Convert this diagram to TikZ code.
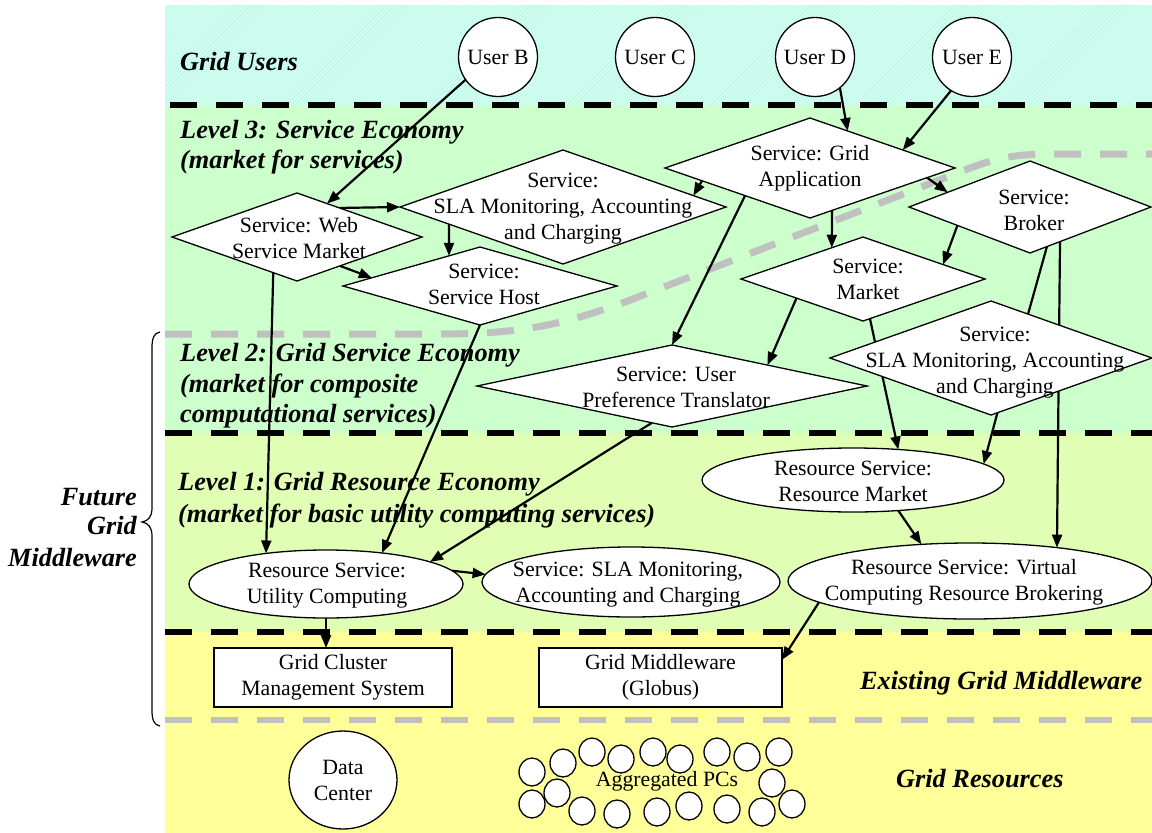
\documentclass[tikz,border=0pt]{standalone}
\usepackage{fontspec}
\setmainfont{Liberation Serif}
\usetikzlibrary{shapes.geometric,arrows.meta,calc,patterns.meta}
\newcommand{\bodyfnt}{\fontsize{21.8}{26}\selectfont}
\newcommand{\headfnt}{\fontsize{26.3}{30.5}\selectfont\bfseries\itshape}
\definecolor{bandcyan}{RGB}{206,255,240}
\definecolor{hatchcyan}{RGB}{188,242,224}
\definecolor{bandgreen}{RGB}{204,255,204}
\definecolor{bandlime}{RGB}{224,255,180}
\definecolor{bandyellow}{RGB}{255,255,153}
\definecolor{dashgray}{RGB}{192,192,192}
\pgfdeclarelayer{back}
\pgfdeclarelayer{conn}
\pgfsetlayers{back,conn,main}
\tikzset{
  shp/.style={draw=black, line width=1.3pt, fill=white, inner sep=0pt, outer sep=0pt},
  dia/.style={shp, diamond},
  ell/.style={shp, ellipse},
  usr/.style={shp, circle, minimum size=79pt, font=\bodyfnt},
  box/.style={shp, rectangle, align=center, font=\bodyfnt, minimum width=238pt, minimum height=59pt},
  lbl/.style={align=center, font=\bodyfnt, inner sep=0pt},
  head/.style={font=\headfnt, inner sep=0pt, anchor=base west},
  conn/.style={line width=2.2pt, -{Triangle[length=13pt,width=10pt]}},
  plainconn/.style={line width=2.2pt},
  sepline/.style={line width=6.5pt, dash pattern=on 27pt off 19pt},
  grayline/.style={sepline, draw=dashgray},
  pc/.style={shp, ellipse, minimum width=26pt, minimum height=28pt},
}
\begin{document}
\begin{tikzpicture}[x=1pt,y=-1pt]
\useasboundingbox (0,0) rectangle (1152,833);
\begin{pgfonlayer}{back}
\fill[bandcyan] (165,5) rectangle (1152,105);
\fill[pattern={Lines[angle=45,distance=3pt,line width=0.4pt]}, pattern color=hatchcyan] (165,5) rectangle (1152,105);
\fill[bandgreen] (165,105) rectangle (1152,433);
\fill[bandlime] (165,433) rectangle (1152,632);
\fill[bandyellow] (165,632) rectangle (1152,833);
\draw[sepline, dash phase=41pt] (165,105) -- (1152,105);
\draw[sepline] (165,433) -- (1152,433);
\draw[sepline] (165,632) -- (1152,632);
\draw[grayline] (165,720) -- (1152,720);
\draw[grayline, line width=7pt] (165,334) -- (440,334) .. controls (520,334) and (560,325) .. (620,304) -- (960,172) .. controls (990,160) and (1010,154) .. (1050,154) -- (1152,154);
\node[head] (tUsers) at (180,70) {Grid Users};
\node[head] (tL3a) at (180,138) {Level 3: Service Economy};
\node[head] (tL3b) at (180,168) {(market for services)};
\node[head] (tL2a) at (180,361) {Level 2: Grid Service Economy};
\node[head] (tL2b) at (180,392) {(market for composite};
\node[head] (tL2c) at (180,422) {computational services)};
\node[head] (tL1a) at (178,490) {Level 1: Grid Resource Economy};
\node[head] (tL1b) at (178,522) {(market for basic utility computing services)};
\node[head] (tExist) at (860,689) {Existing Grid Middleware};
\node[head] (tRes) at (896,787) {Grid Resources};
\node[head, anchor=base east] (tF1) at (137,505) {Future};
\node[head, anchor=base east] (tF2) at (137,534) {Grid};
\node[head, anchor=base east] (tF3) at (137,566) {Middleware};
\draw[line width=1.2pt] (160,332) .. controls (154,333) and (152,338) .. (152,348) -- (152,508) .. controls (152,517) and (148,521) .. (142,522) .. controls (148,523) and (152,527) .. (152,536) -- (152,710) .. controls (152,720) and (154,725) .. (160,726);
\end{pgfonlayer}

% users
\node[usr] (usrB) at (498,57) {User B};
\node[usr] (usrC) at (655,57) {User C};
\node[usr] (usrD) at (815,57) {User D};
\node[usr] (usrE) at (972,57) {User E};

% diamonds
\node[dia, minimum width=250pt, minimum height=88pt] (wsm) at (297,237) {};
\node[dia, minimum width=326pt, minimum height=114pt] (sla3) at (563,207) {};
\node[dia, minimum width=274pt, minimum height=78pt] (host) at (480,286) {};
\node[dia, minimum width=290pt, minimum height=100pt] (gapp) at (810,168) {};
\node[dia, minimum width=242pt, minimum height=92pt] (brk) at (1030,207) {};
\node[dia, minimum width=244pt, minimum height=84pt] (mkt) at (863,279) {};
\node[dia, minimum width=322pt, minimum height=114pt] (sla2) at (991,358) {};
\node[dia, minimum width=390pt, minimum height=82pt] (upt) at (672,386) {};

% ellipses
\node[ell, minimum width=302pt, minimum height=64pt] (rmkt) at (853,480) {};
\node[ell, minimum width=274pt, minimum height=68pt] (util) at (326,584) {};
\node[ell, minimum width=298pt, minimum height=70pt] (sla1) at (631,582) {};
\node[ell, minimum width=364pt, minimum height=76pt] (vcrb) at (970,581) {};

% boxes
\node[box] (gcms) at (333,677.5) {Grid Cluster\\Management System};
\node[box, minimum width=243pt] (gmw) at (660.5,677.5) {Grid Middleware\\(Globus)};

% resources
\node[shp, ellipse, minimum width=108pt, minimum height=98pt, font=\bodyfnt, align=center] (dc) at (343,780) {Data\\Center};
\foreach \px/\py [count=\i] in {532/772,563/763,592/752,621/759,653/752,680/759,717/752,747/757,779/752,772/783,792/804,532/804,557/793,582/811,617/814,657/812,689/806,727/809,762/812}
  \node[pc] (pc\i) at (\px,\py) {};
\node[lbl] (pcT) at (667,781) {Aggregated PCs};

% labels
\node[lbl] (wsmT) at (299,238) {Service: Web\\Service Market};
\node[lbl] (sla3T) at (563,209) {Service:\\SLA Monitoring, Accounting\\and Charging};
\node[lbl] (hostT) at (484,284) {Service:\\Service Host};
\node[lbl] (gappT) at (810,168) {Service: Grid\\Application};
\node[lbl] (brkT) at (1034,210) {Service:\\Broker};
\node[lbl] (mktT) at (868,279) {Service:\\Market};
\node[lbl] (sla2T) at (995,363) {Service:\\SLA Monitoring, Accounting\\and Charging};
\node[lbl] (uptT) at (676,387) {Service: User\\Preference Translator};
\node[lbl] (rmktT) at (853,481) {Resource Service:\\Resource Market};
\node[lbl] (utilT) at (327,586) {Resource Service:\\Utility Computing};
\node[lbl] (sla1T) at (628,585) {Service: SLA Monitoring,\\Accounting and Charging};
\node[lbl] (vcrbT) at (964,582) {Resource Service: Virtual\\Computing Resource Brokering};

\begin{pgfonlayer}{conn}
\draw[conn] (usrB.215) -- ($(wsm.north)!0.24!(wsm.east)$);
\draw[conn] ($(wsm.north)!0.34!(wsm.east)$) -- (sla3.west);
\draw[conn] ($(sla3.west)!0.3!(sla3.south)$) -- ($(host.west)!0.774!(host.north)$);
\draw[conn] ($(wsm.south)!0.344!(wsm.east)$) -- ($(host.west)!0.21!(host.north)$);
\draw[conn] ($(wsm.west)!0.81!(wsm.south)$) -- (util.153.5);
\draw[conn] (host.south) -- (util.29);
\draw[conn] (usrD.309) -- ($(gapp.north)!0.26!(gapp.east)$);
\draw[conn] (usrE.238.6) -- ($(gapp.north)!0.64!(gapp.east)$);
\draw[conn] ($(gapp.west)!0.255!(gapp.south)$) -- ($(sla3.north)!0.8!(sla3.east)$);
\draw[conn] ($(gapp.south)!0.807!(gapp.east)$) -- ($(brk.west)!0.32!(brk.north)$);
\draw[conn] ($(gapp.south)!0.152!(gapp.east)$) -- ($(mkt.west)!0.744!(mkt.north)$);
\draw[conn] ($(brk.west)!0.4!(brk.south)$) -- ($(mkt.north)!0.656!(mkt.east)$);
\draw[conn] ($(gapp.west)!0.552!(gapp.south)$) -- (upt.north);
\draw[conn] ($(mkt.west)!0.455!(mkt.south)$) -- ($(upt.north)!0.49!(upt.east)$);
\draw[conn] ($(mkt.south)!0.057!(mkt.east)$) -- (rmkt.34.8);
\draw[plainconn] ($(brk.south)!0.14!(brk.east)$) -- ($(sla2.north)!0.23!(sla2.east)$);
\draw[conn] ($(brk.south)!0.248!(brk.east)$) -- (vcrb.21.6);
\draw[conn] ($(sla2.south)!0.04!(sla2.east)$) -- (rmkt.7);
\draw[conn] (rmkt.326.3) -- (vcrb.143.9);
\draw[conn] ($(upt.west)!0.897!(upt.south)$) -- (util.12.8);
\draw[conn] (util.6.7) -- (sla1.177.3);
\draw[conn] (util.south) -- (util.south |- gcms.north);
\draw[conn] (vcrb.188.7) -- ($(gmw.north east)!0.2!(gmw.south east)$);
\end{pgfonlayer}
\end{tikzpicture}
\end{document}
